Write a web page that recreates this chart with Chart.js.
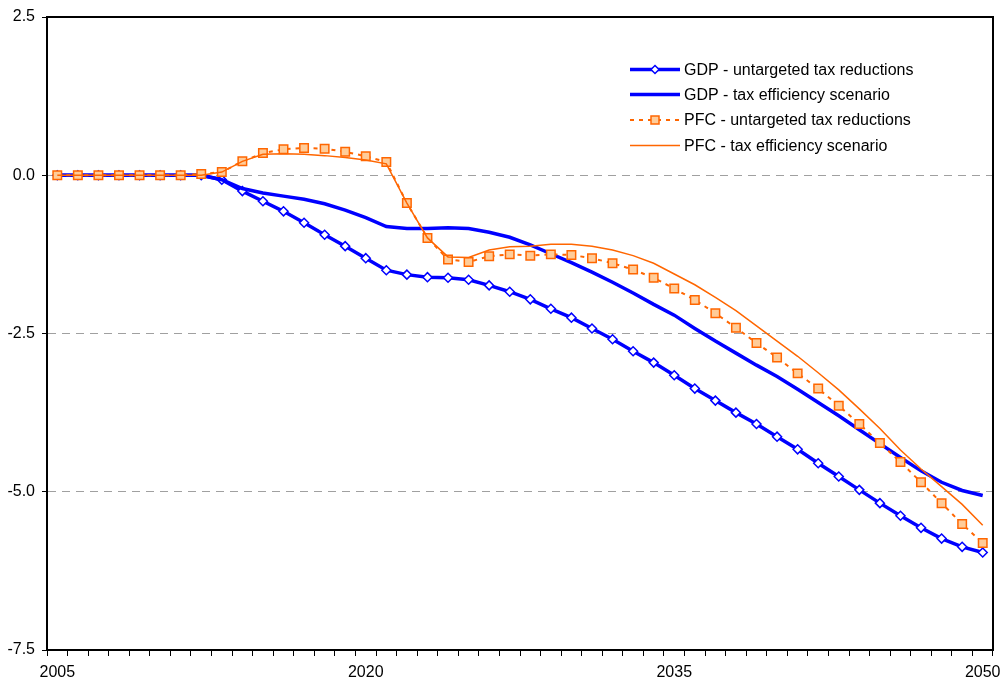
<!DOCTYPE html>
<html>
<head>
<meta charset="utf-8">
<title>GDP and PFC</title>
<script src="https://cdn.jsdelivr.net/npm/chart.js@4.4.1/dist/chart.umd.min.js"></script>
<style>
  body { margin: 0; background: #fff; }
  canvas { display: block; }
</style>
</head>
<body>
<canvas id="myChart" width="1004" height="684"></canvas>
<script>
// years on the x axis
const years = [2005, 2006, 2007, 2008, 2009, 2010, 2011, 2012, 2013, 2014,
  2015, 2016, 2017, 2018, 2019, 2020, 2021, 2022, 2023, 2024,
  2025, 2026, 2027, 2028, 2029, 2030, 2031, 2032, 2033, 2034,
  2035, 2036, 2037, 2038, 2039, 2040, 2041, 2042, 2043, 2044,
  2045, 2046, 2047, 2048, 2049, 2050];

// series
const gdpUntargeted = [0, 0, 0, 0, 0, 0, 0, 0, -0.07, -0.25,
  -0.41, -0.57, -0.75, -0.94, -1.12, -1.31, -1.50, -1.57, -1.61, -1.62,
  -1.65, -1.74, -1.84, -1.96, -2.11, -2.25, -2.42, -2.59, -2.78, -2.96,
  -3.16, -3.37, -3.56, -3.75, -3.93, -4.13, -4.33, -4.55, -4.76, -4.97,
  -5.18, -5.38, -5.57, -5.74, -5.87, -5.96];

const gdpEfficiency = [0, 0, 0, 0, 0, 0, 0, 0, -0.07, -0.21,
  -0.28, -0.33, -0.38, -0.45, -0.55, -0.67, -0.81, -0.84, -0.84, -0.83,
  -0.84, -0.90, -0.98, -1.10, -1.24, -1.38, -1.53, -1.69, -1.86, -2.04,
  -2.21, -2.42, -2.62, -2.81, -3.00, -3.18, -3.38, -3.59, -3.80, -4.02,
  -4.24, -4.46, -4.67, -4.85, -4.98, -5.06];

const pfcUntargeted = [0, 0, 0, 0, 0, 0, 0, 0.02, 0.05, 0.22,
  0.35, 0.41, 0.43, 0.42, 0.37, 0.30, 0.21, -0.44, -0.99, -1.33,
  -1.37, -1.28, -1.25, -1.27, -1.25, -1.26, -1.31, -1.39, -1.49, -1.62,
  -1.79, -1.97, -2.18, -2.41, -2.65, -2.88, -3.13, -3.37, -3.64, -3.93,
  -4.23, -4.53, -4.85, -5.18, -5.51, -5.81];

const pfcEfficiency = [0, 0, 0, 0, 0, 0, 0, 0, 0.05, 0.22,
  0.33, 0.34, 0.33, 0.31, 0.28, 0.24, 0.18, -0.44, -0.99, -1.29,
  -1.30, -1.18, -1.13, -1.12, -1.09, -1.09, -1.12, -1.18, -1.27, -1.39,
  -1.56, -1.73, -1.93, -2.14, -2.38, -2.62, -2.86, -3.12, -3.39, -3.69,
  -4.00, -4.34, -4.64, -4.92, -5.20, -5.53];

const seriesNames = [
  "GDP - untargeted tax reductions",
  "GDP - tax efficiency scenario",
  "PFC - untargeted tax reductions",
  "PFC - tax efficiency scenario"
];

const yTicks = [2.5, 0, -2.5, -5, -7.5];

const BLUE = "#0000ff";
const ORANGE = "#ff6600";
const PEACH = "#ffcc99";
const FONT = "'Liberation Sans', Arial, sans-serif";

// frame around the plot area (top and right sides like excel)
const framePlugin = {
  id: "frame",
  afterDraw(chart) {
    const a = chart.chartArea;
    const ctx = chart.ctx;
    ctx.save();
    ctx.strokeStyle = "#000";
    ctx.lineWidth = 2;
    ctx.beginPath();
    ctx.moveTo(a.left, a.top);
    ctx.lineTo(a.right, a.top);
    ctx.lineTo(a.right, a.bottom);
    ctx.stroke();
    ctx.restore();
  }
};

// legend drawn inside the plot area, top right
const legendPlugin = {
  id: "insideLegend",
  afterDraw(chart) {
    const ctx = chart.ctx;
    const x0 = 630, x1 = 680, tx = 684;
    const rows = [69.5, 94.5, 120, 145.5];
    ctx.save();
    ctx.font = "16px " + FONT;
    ctx.textBaseline = "middle";
    ctx.fillStyle = "#000";
    chart.data.datasets.forEach((ds, i) => {
      const y = rows[i];
      ctx.strokeStyle = ds.borderColor;
      ctx.lineWidth = ds.borderWidth;
      ctx.setLineDash(ds.borderDash || []);
      ctx.beginPath();
      ctx.moveTo(x0, y);
      ctx.lineTo(x1, y);
      ctx.stroke();
      ctx.setLineDash([]);
      const xm = (x0 + x1) / 2;
      if (ds.pointStyle === "rectRot") {
        ctx.fillStyle = "#fff";
        ctx.strokeStyle = BLUE;
        ctx.lineWidth = 1.5;
        ctx.beginPath();
        ctx.moveTo(xm, y - 4);
        ctx.lineTo(xm + 4, y);
        ctx.lineTo(xm, y + 4);
        ctx.lineTo(xm - 4, y);
        ctx.closePath();
        ctx.fill();
        ctx.stroke();
      } else if (ds.pointStyle === "rect") {
        ctx.fillStyle = PEACH;
        ctx.strokeStyle = ORANGE;
        ctx.lineWidth = 1.5;
        ctx.fillRect(xm - 4, y - 4, 8, 8);
        ctx.strokeRect(xm - 4, y - 4, 8, 8);
      }
      ctx.fillStyle = "#000";
      ctx.fillText(ds.label, tx, y + 1);
    });
    ctx.restore();
  }
};

const ctx = document.getElementById("myChart").getContext("2d");

const chart = new Chart(ctx, {
  type: "line",
  data: {
    labels: years,
    datasets: [
      {
        label: seriesNames[0],
        data: gdpUntargeted,
        borderColor: BLUE,
        borderWidth: 3.5,
        pointStyle: "rectRot",
        pointRadius: 4.5,
        pointBackgroundColor: "#fff",
        pointBorderColor: BLUE,
        pointBorderWidth: 1.5,
        order: 4
      },
      {
        label: seriesNames[1],
        data: gdpEfficiency,
        borderColor: BLUE,
        borderWidth: 3.5,
        pointRadius: 0,
        order: 3
      },
      {
        label: seriesNames[2],
        data: pfcUntargeted,
        borderColor: ORANGE,
        borderWidth: 2,
        borderDash: [4, 5],
        pointStyle: "rect",
        pointRadius: 6,
        pointBackgroundColor: PEACH,
        pointBorderColor: ORANGE,
        pointBorderWidth: 1.5,
        order: 2
      },
      {
        label: seriesNames[3],
        data: pfcEfficiency,
        borderColor: ORANGE,
        borderWidth: 1.5,
        pointRadius: 0,
        order: 1
      }
    ]
  },
  options: {
    responsive: false,
    animation: false,
    events: [],
    layout: { padding: { top: 17, right: 11, left: 0, bottom: 0 } },
    plugins: {
      legend: { display: false },
      tooltip: { enabled: false }
    },
    scales: {
      x: {
        type: "category",
        offset: true,
        afterFit: s => {
          s.height = 34;
          s.paddingLeft = 0;
          s.paddingRight = 0;
        },
        grid: {
          offset: true,
          drawOnChartArea: false,
          drawTicks: true,
          tickLength: 6,
          tickColor: "#000",
          tickWidth: 1
        },
        border: { color: "#000", width: 2 },
        ticks: {
          autoSkip: false,
          maxRotation: 0,
          padding: 7,
          color: "#000",
          font: { family: FONT, size: 16 },
          callback: (v, i) => (i % 15 === 0 ? years[i] : "")
        }
      },
      y: {
        min: -7.5,
        max: 2.5,
        afterFit: s => {
          s.width = 47;
          s.paddingTop = 0;
          s.paddingBottom = 0;
        },
        afterBuildTicks: s => { s.ticks = yTicks.map(v => ({ value: v })); },
        grid: {
          color: "#a0a0a0",
          lineWidth: 1,
          tickBorderDash: [],
          tickColor: "#000",
          tickLength: 5
        },
        border: { color: "#000", width: 2, dash: [8, 6] },
        ticks: {
          padding: 7,
          color: "#000",
          font: { family: FONT, size: 16 },
          callback: v => v.toFixed(1)
        }
      }
    }
  },
  plugins: [framePlugin, legendPlugin]
});
</script>
</body>
</html>
